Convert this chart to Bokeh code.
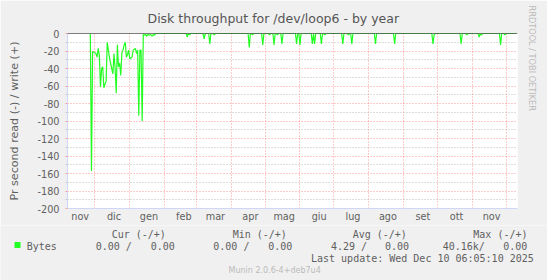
import pandas as pd
from bokeh.plotting import figure
from bokeh.layouts import column
from bokeh.models import FixedTicker, Label, Span, BoxAnnotation, Range1d, Title
from bokeh.embed import file_html
from bokeh.resources import INLINE

# ---------------- data ----------------
title_text = "Disk throughput for /dev/loop6 - by year"
y_label_text = "Pr second read (-) / write (+)"
series_name = "Bytes"

# daily values of the read series (negative side), starting 2024-11-27
dense_start = "2024-11-27"
dense_values = [0, -157, -21, -21, -22, -23, -27, -17, -25, -61, -40, -38, -62, -58,
                -55, -10, -19, -28, -34, -40, -46, -23, -40, -68, -13, -38, -34, -48,
                -22, -19, -13, -10, -27, -24, -19, -29, -28, -27, -19, -18, -17, -23,
                -19, -94, -19, -19, -100, -1, -2, -1, -3, -1, -2, -1, -2, -3, -1, -2]
last_date = "2025-12-10"
# isolated dips later in the year (baseline is 0)
spike_dates = ["2025-02-21", "2025-02-23", "2025-03-08", "2025-03-13", "2025-03-17",
               "2025-04-17", "2025-04-20", "2025-04-29", "2025-05-05", "2025-05-09",
               "2025-05-12", "2025-05-16", "2025-05-29", "2025-06-01", "2025-06-12",
               "2025-06-14", "2025-06-20", "2025-06-23", "2025-07-09", "2025-07-14",
               "2025-07-17", "2025-08-07", "2025-08-24", "2025-09-27", "2025-09-28",
               "2025-10-22", "2025-10-27", "2025-11-07", "2025-11-09", "2025-11-26",
               "2025-11-30"]
spike_values = [-4, -1.5, -6, -12, -1.5,
                -16, -1.5, -13, -1.5, -13,
                -1.5, -12, -12, -13, -12,
                -12, -12, -1.5, -12, -1.5,
                -12, -12, -12, -12, -1.5,
                -12, -1.5, -4, -2, -13,
                -1.5]

month_starts = ["2024-12-01", "2025-01-01", "2025-02-01", "2025-03-01", "2025-04-01",
                "2025-05-01", "2025-06-01", "2025-07-01", "2025-08-01", "2025-09-01",
                "2025-10-01", "2025-11-01", "2025-12-01"]
month_label_dates = ["2024-11-18", "2024-12-18", "2025-01-18", "2025-02-18", "2025-03-18",
                     "2025-04-18", "2025-05-18", "2025-06-18", "2025-07-18", "2025-08-18",
                     "2025-09-18", "2025-10-18", "2025-11-18"]
month_labels = ["nov", "dic", "gen", "feb", "mar", "apr", "mag", "giu", "lug", "ago",
                "set", "ott", "nov"]

y_ticks = [0, -20, -40, -60, -80, -100, -120, -140, -160, -180, -200]
y_tick_labels = ["0", "-20", "-40", "-60", "-80", "-100", "-120", "-140", "-160", "-180", "-200"]
y_minor = [-10, -30, -50, -70, -90, -110, -130, -150, -170, -190]

legend_headers = ["Cur (-/+)", "Min (-/+)", "Avg (-/+)", "Max (-/+)"]
legend_read = ["0.00 /", "0.00 /", "4.29 /", "40.16k/"]
legend_write = ["0.00", "0.00", "0.00", "0.00"]
last_update_text = "Last update: Wed Dec 10 06:05:10 2025"
munin_text = "Munin 2.0.6-4+deb7u4"
rrd_text = "RRDTOOL / TOBI OETIKER"

# ---------------- build ----------------
origin = pd.Timestamp("2024-11-07")


def day(d):
    return (pd.Timestamp(d) - origin) / pd.Timedelta(days=1)


dates = pd.date_range(dense_start, last_date, freq="D")
vals = pd.Series(0.0, index=dates)
vals.iloc[:len(dense_values)] = dense_values
for d, v in zip(spike_dates, spike_values):
    vals[pd.Timestamp(d)] = v
xs = [day(d) for d in dates]

W, H = 547, 280
FL, FT, FR, FB = 67, 33, 517, 208
H1 = 225            # chart part
H2 = H - H1         # legend part

TXT = "#606060"
AX = "#CFD6F8"
BG = "#F0F0F0"

p = figure(width=W, height=H1, output_backend="svg", toolbar_location=None,
           x_range=Range1d(day("2024-11-06 18:00"), day("2025-12-11")),
           y_range=Range1d(-200, 0),
           min_border_left=FL, min_border_right=W - FR,
           min_border_top=FT, min_border_bottom=H1 - FB)
p.background_fill_color = "white"
p.border_fill_color = BG
p.outline_line_color = None

p.title.text = title_text
p.title.align = "left"
p.title.offset = 80
p.title.text_font = "DejaVu Sans"
p.title.text_font_size = "12.5px"
p.title.text_font_style = "normal"
p.title.text_color = "#555555"
p.title.standoff = 16

p.add_layout(Title(text=rrd_text, align="left", offset=-28, text_font="DejaVu Sans",
                   text_font_size="8.2px", text_font_style="normal",
                   text_color="#BBBBBB", standoff=18), "right")

# axes
p.yaxis.ticker = FixedTicker(ticks=y_ticks, minor_ticks=y_minor)
p.yaxis.major_label_overrides = {t: s for t, s in zip(y_ticks, y_tick_labels)}
p.yaxis.major_label_text_font = "DejaVu Sans"
p.yaxis.major_label_text_font_size = "9.7px"
p.yaxis.major_label_text_color = TXT
p.yaxis.axis_line_color = AX
p.yaxis.major_tick_line_color = "#F4A0A0"
p.yaxis.major_tick_in = 0
p.yaxis.major_tick_out = 2
p.yaxis.minor_tick_line_color = "#CCCCCC"
p.yaxis.minor_tick_in = 0
p.yaxis.minor_tick_out = 2
p.yaxis.major_label_standoff = 6
p.yaxis.axis_label = y_label_text
p.yaxis.axis_label_text_font = "DejaVu Sans"
p.yaxis.axis_label_text_font_size = "11.1px"
p.yaxis.axis_label_text_font_style = "normal"
p.yaxis.axis_label_text_color = TXT
p.yaxis.axis_label_standoff = 14

lab_ticks = [int(day(d)) for d in month_label_dates]
p.xaxis.ticker = FixedTicker(ticks=lab_ticks, minor_ticks=[])
p.xaxis.major_label_overrides = {t: s for t, s in zip(lab_ticks, month_labels)}
p.xaxis.major_label_text_font = "DejaVu Sans"
p.xaxis.major_label_text_font_size = "9.7px"
p.xaxis.major_label_text_color = TXT
p.xaxis.axis_line_color = AX
p.xaxis.major_tick_line_color = None
p.xaxis.minor_tick_line_color = None
p.xaxis.major_tick_in = 0
p.xaxis.major_tick_out = 0
p.xaxis.minor_tick_in = 0
p.xaxis.minor_tick_out = 0
p.xaxis.major_label_standoff = 2

# grids
p.ygrid.grid_line_color = "#FF0000"
p.ygrid.grid_line_alpha = 0.4
p.ygrid.grid_line_dash = "1 2"
p.ygrid.minor_grid_line_color = "#909090"
p.ygrid.minor_grid_line_alpha = 0.6
p.ygrid.minor_grid_line_dash = "1 2"
p.xgrid.ticker = FixedTicker(ticks=[day(d) for d in month_starts])
p.xgrid.grid_line_color = "#FF0000"
p.xgrid.grid_line_alpha = 0.4
p.xgrid.grid_line_dash = "1 2"

# series
p.line(xs, vals.values, line_color="#22FF22", line_width=1.2)
p.add_layout(Span(location=0, dimension="width", line_color="black", line_width=1.2))

# ---------------- legend strip (its frame is the whole strip) ----------------
q = figure(width=W, height=H2, output_backend="svg", toolbar_location=None,
           x_range=Range1d(0, W), y_range=Range1d(H, H1),
           x_axis_location=None, y_axis_location=None,
           min_border_left=0, min_border_right=0, min_border_top=0, min_border_bottom=0)
q.title = None
q.grid.visible = False
q.background_fill_color = BG
q.border_fill_color = BG
q.outline_line_color = None

for fig in (p, q):
    if "frame_align" in fig.properties():
        fig.frame_align = False


def add_text(text, X, Y, size, color=TXT, font="DejaVu Sans Mono", align="left"):
    q.add_layout(Label(x=X, y=Y, text=text, text_font=font, text_font_size=f"{size}px",
                       text_color=color, text_align=align, text_baseline="middle"))


hdr_x = [111.2, 232.2, 352.2, 472.8]
read_x = [95.2, 212.8, 330.5, 442.2]
write_x = [150.2, 267.8, 384.5, 502.8]
for hx, h in zip(hdr_x, legend_headers):
    add_text(h, hx, 233.5, 10)
for rx, r in zip(read_x, legend_read):
    add_text(r, rx, 245.5, 10)
for wx, w in zip(write_x, legend_write):
    add_text(w, wx, 245.5, 10)
add_text(series_name, 26.2, 245.5, 10)
add_text(last_update_text, 310.5, 257.5, 10)
add_text(munin_text, 228, 269.5, 8.0, color="#BBBBBB", font="DejaVu Sans", align="left")

q.add_layout(BoxAnnotation(left=14, right=20, top=241.5, bottom=247.5,
                           fill_color="#22FF22", fill_alpha=1.0, line_color=None))

open("out.html", "w").write(file_html(column(p, q, spacing=0), INLINE))
